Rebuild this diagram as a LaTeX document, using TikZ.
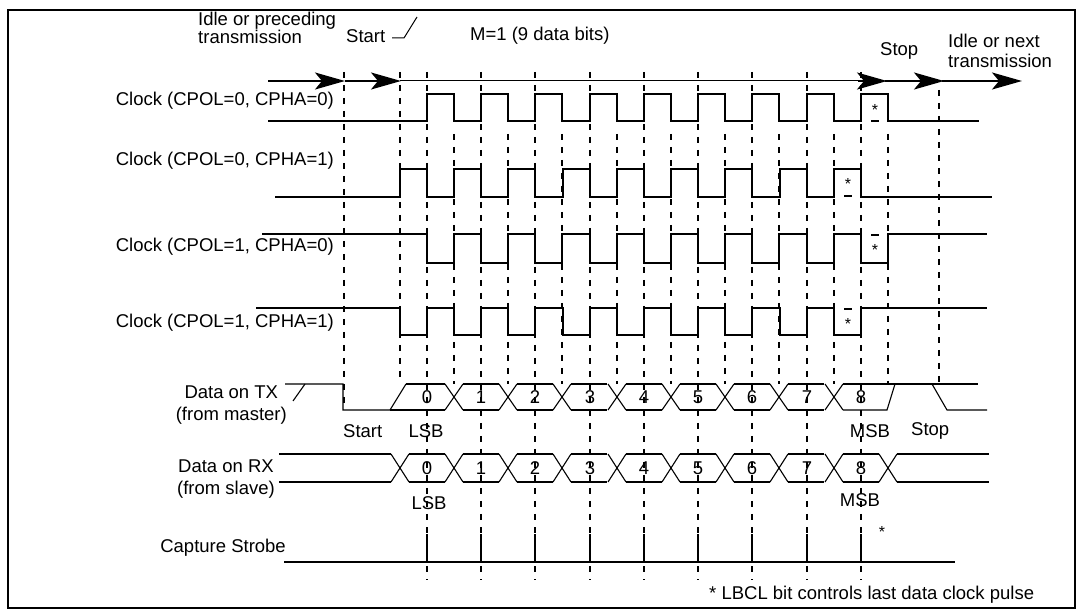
\documentclass[tikz,border=0pt]{standalone}
\usepackage{fontspec}
\setmainfont{Liberation Sans}
\usetikzlibrary{arrows.meta}
\begin{document}
\begin{tikzpicture}[x=1pt,y=-1pt,
  lbl/.style={inner sep=0pt,font=\fontsize{18.5}{16}\selectfont},
  lbl2/.style={inner sep=0pt,font=\fontsize{18.5}{22}\selectfont},
  small/.style={inner sep=0pt,font=\fontsize{16}{16}\selectfont},
  wave/.style={line width=1.9pt},
  dat/.style={line width=1.1pt},
  grid/.style={line width=1.5pt,dash pattern=on 6pt off 7pt},
  big/.style={line width=2pt,-{Stealth[length=30pt,width=17pt,inset=7pt]}}]
\useasboundingbox (0,0) rectangle (1077,609);
\draw[line width=1.5pt] (8,10) rectangle (1075,608);
\def\ctr{427,481,535,590,644,698,752,807,861}
\def\hlf{454,508,562,617,671,725,779,834,888}
% dashed grid
\foreach \x in \ctr \draw[grid] (\x,72) -- (\x,580);
\foreach \x in \hlf \draw[grid] (\x,134) -- (\x,384);
\draw[grid] (344,72) -- (344,410);
\draw[grid] (400,72) -- (400,382);
\draw[grid] (939,90) -- (939,384);
% arrow line
\draw[big] (268,81) -- (345,81);
\draw[big] (345,81) -- (401,81);
\draw[line width=1pt] (400,81) -- (862,81);
\draw[big] (858,81) -- (887,81);
\draw[big] (885,81) -- (944,81);
\draw[big] (942,81) -- (1022,81);
% top labels
\node[lbl,anchor=west,align=left] (idle) at (198,28) {Idle or preceding\\transmission};
\node[lbl,anchor=west] (start) at (346,36) {Start};
\draw[line width=1pt] (392,38) -- (404,38) -- (417,17);
\node[lbl,anchor=west] (mlab) at (470,36) {M=1 (9 data bits)};
\node[lbl,anchor=west] (stop) at (880,51) {Stop};
\node[lbl,anchor=west,align=left] (idle2) at (948,51) {Idle or next\\[4pt]transmission};
% clock labels
\node[lbl,anchor=east] (c1) at (334,101) {Clock (CPOL=0, CPHA=0)};
\node[lbl,anchor=east] (c2) at (334,161) {Clock (CPOL=0, CPHA=1)};
\node[lbl,anchor=east] (c3) at (334,247) {Clock (CPOL=1, CPHA=0)};
\node[lbl,anchor=east] (c4) at (334,323) {Clock (CPOL=1, CPHA=1)};
% clock waveforms
\draw[wave] (268,121) foreach \x in \ctr { -- (\x,121) -- ++(0,-27) -- ++(27,0) -- ++(0,27)} -- (979,121);
\draw[wave] (275,197) foreach \x in \ctr { -- (\x-27,197) -- ++(0,-28) -- ++(27,0) -- ++(0,28)} -- (992,197);
\draw[wave] (262,234) foreach \x in \ctr { -- (\x,234) -- ++(0,29) -- ++(27,0) -- ++(0,-29)} -- (987,234);
\draw[wave] (256,308) foreach \x in \ctr { -- (\x-27,308) -- ++(0,27) -- ++(27,0) -- ++(0,-27)} -- (987,308);
% optional-pulse marks
\node[small] (s1) at (875,110) {*};
\draw[line width=1.2pt] (871,121) -- (879,121);
\node[small] (s2) at (848,184) {*};
\draw[line width=1.2pt] (844,196) -- (852,196);
\node[small] (s3) at (875,250) {*};
\draw[line width=1.2pt] (871,235) -- (879,235);
\node[small] (s4) at (848,324) {*};
\draw[line width=1.2pt] (844,309) -- (852,309);
% data labels
\node[lbl2,anchor=east,align=center] (tx) at (287,405) {Data on TX\\(from master)};
\node[lbl2,anchor=east,align=center] (rx) at (275,479) {Data on RX\\(from slave)};
\node[lbl,anchor=east] (cs) at (286,548) {Capture Strobe};
% TX
\draw[dat] (285,384) -- (343,384) -- (343,410) -- (390,410) -- (406,384);
\draw[dat] (293,401) -- (305,384);
\draw[dat] (406,384) -- (445,384);
\draw[dat] (390,410) -- (445,410);
\foreach \c [count=\i] in {454,508,562,617,671,725,779,834}{
  \draw[dat] (\c-9,384) -- (\c+9,410);
  \draw[dat] (\c-9,410) -- (\c+9,384);
  \ifnum\i<8
    \draw[dat] (\c+9,384) -- (\c+45,384);
    \draw[dat] (\c+9,410) -- (\c+45,410);
  \fi}
\draw[dat] (843,384) -- (978,384);
\draw[dat] (843,410) -- (887,410) -- (895,384);
\draw[dat] (932,384) -- (947,410) -- (987,410);
% RX
\draw[dat] (279,454) -- (391,454);
\draw[dat] (279,482) -- (391,482);
\foreach \c [count=\i] in {400,454,508,562,617,671,725,779,834,888}{
  \draw[dat] (\c-9,454) -- (\c+9,482);
  \draw[dat] (\c-9,482) -- (\c+9,454);
  \ifnum\i<10
    \draw[dat] (\c+9,454) -- (\c+45,454);
    \draw[dat] (\c+9,482) -- (\c+45,482);
  \fi}
\draw[dat] (897,454) -- (989,454);
\draw[dat] (897,482) -- (989,482);
% digits
\foreach \x [count=\i from 0] in \ctr {
  \node[lbl] (t\i) at (\x,397) {\i};
  \node[lbl] (r\i) at (\x,468) {\i};}
\node[lbl,anchor=west] (tstart) at (343,431) {Start};
\node[lbl] (tlsb) at (426,431) {LSB};
\node[lbl] (tmsb) at (870,431) {MSB};
\node[lbl,anchor=west] (tstop) at (911,431) {Stop};
\node[lbl] (rlsb) at (429,503) {LSB};
\node[lbl] (rmsb) at (860,500) {MSB};
% strobe
\draw[line width=1.4pt] (284,562) -- (955,562);
\foreach \x in \ctr \draw[line width=1.4pt] (\x,562) -- (\x,534);
\node[small] (s5) at (882,532) {*};
\node[lbl,anchor=west] (foot) at (709,595) {* LBCL bit controls last data clock pulse};
\end{tikzpicture}
\end{document}
